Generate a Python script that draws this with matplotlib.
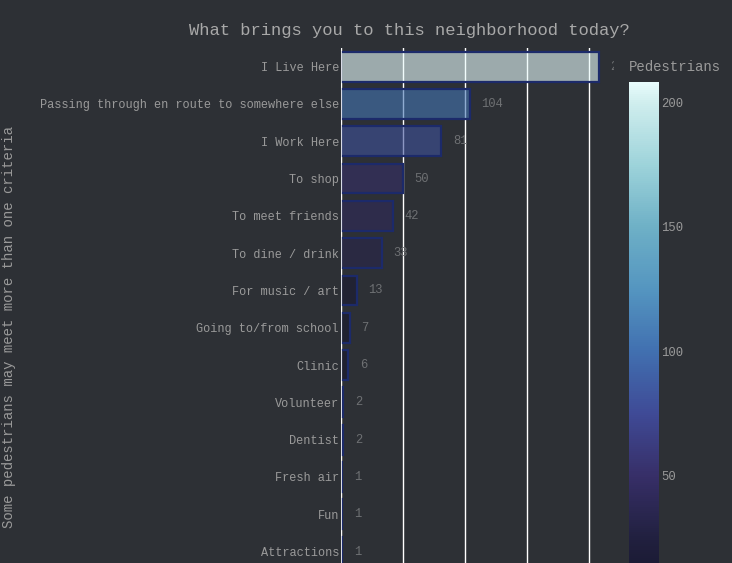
import matplotlib
matplotlib.use("Agg")
import matplotlib.pyplot as plt
import numpy as np
from matplotlib.colors import LinearSegmentedColormap, Normalize, to_rgba
from matplotlib.colorbar import ColorbarBase

categories = ["I Live Here", "Passing through en route to somewhere else", "I Work Here",
              "To shop", "To meet friends", "To dine / drink", "For music / art",
              "Going to/from school", "Clinic", "Volunteer", "Dentist", "Fresh air",
              "Fun", "Attractions"]
values = [208, 104, 81, 50, 42, 33, 13, 7, 6, 2, 2, 1, 1, 1]
cbar_ticks = [50, 100, 150, 200]

BG = "#2d3035"
TXT = "#9a9a9a"
VAL = "#6e7073"
plt.rcParams['font.family'] = ['Liberation Mono', 'DejaVu Sans Mono']

vmin, vmax = 1, 208
stops_v = [1, 25, 50, 75, 100, 125, 150, 175, 200, 208]
stops_c = ["#141428", "#21203f", "#372f68", "#3f4a96", "#4170b0", "#5495c0",
           "#6eb0c6", "#9dd3da", "#d0eeee", "#e8fcfc"]
cmap = LinearSegmentedColormap.from_list(
    "ice_like", [((v - vmin) / (vmax - vmin), c) for v, c in zip(stops_v, stops_c)])
norm = Normalize(vmin=vmin, vmax=vmax)

W, H = 732, 563
fig = plt.figure(figsize=(W / 100, H / 100), dpi=100, facecolor=BG)

ax_left, ax_right, ax_top = 341, 614, 48
n = len(categories)
px_per_cat = 37.3
ax_h = (n + 1) * px_per_cat
ax = fig.add_axes([ax_left / W, 1 - (ax_top + ax_h) / H, (ax_right - ax_left) / W, ax_h / H])
ax.set_facecolor(BG)

y = np.arange(n)
faces = [to_rgba(cmap(norm(v)), 0.6) for v in values]
ax.barh(y, values, height=0.8, color=faces, edgecolor="#1c2a6a", linewidth=1.6, zorder=2)
xmax = (ax_right - ax_left) / 1.24
ax.set_xlim(0, xmax)
ax.set_ylim(n + 0.5, -0.5)
ax.set_yticks(y)
ax.set_yticklabels(categories, color=TXT, fontsize=8.6)
ax.set_xticks([0, 50, 100, 150, 200])
ax.tick_params(axis='y', length=0, pad=1.5)
ax.tick_params(axis='x', length=0, labelbottom=False)
ax.grid(axis='x', color="white", linewidth=1, zorder=0)
ax.set_axisbelow(True)
ax.axvline(0, color="white", linewidth=1.2, zorder=3)
for s in ax.spines.values():
    s.set_visible(False)

off = 11.5 / 1.24
for yi, v in zip(y, values):
    ax.text(v + off, yi, str(v), color=VAL, fontsize=8.7, va='center', ha='left', clip_on=True)

# colorbar
ppu = (476 - 102) / 150.0
top_px = 102 - (vmax - 200) * ppu
bot_px = 476 + (50 - vmin) * ppu
cax = fig.add_axes([629 / W, 1 - bot_px / H, 30 / W, (bot_px - top_px) / H])
cb = ColorbarBase(cax, cmap=cmap, norm=norm, orientation='vertical')
cb.outline.set_visible(False)
cb.set_ticks(cbar_ticks)
cax.tick_params(length=0, pad=1.5, labelsize=8.8, labelcolor=TXT)

fig.text(629 / W, 1 - 67 / H, "Pedestrians", color=TXT, fontsize=10.1, ha='left', va='center')
fig.text(409 / W, 1 - 30 / H, "What brings you to this neighborhood today?", color="#a8a8a8",
         fontsize=12.3, ha='center', va='center')
fig.text(9 / W, 1 - 327 / H, "Some pedestrians may meet more than one criteria", color=TXT,
         fontsize=10.1, rotation=90, ha='center', va='center')

fig.savefig("out.png", dpi=100, facecolor=BG)
